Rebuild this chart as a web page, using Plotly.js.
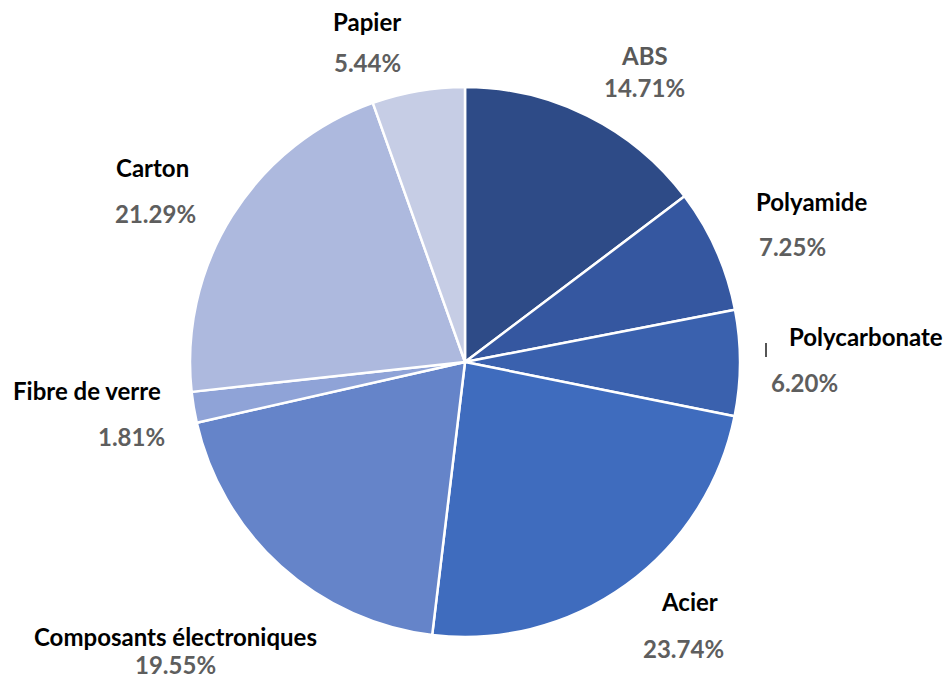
<!DOCTYPE html>
<html><head><meta charset="utf-8">
<script src="https://cdn.plot.ly/plotly-3.0.1.min.js"></script>
<style>body{margin:0;background:#fff}</style>
</head><body>
<div id="chart" style="width:949px;height:680px"></div>
<script>
const categories = ["ABS","Polyamide","Polycarbonate","Acier","Composants électroniques","Fibre de verre","Carton","Papier"];
const values = [14.71, 7.25, 6.20, 23.74, 19.55, 1.81, 21.29, 5.44];
const colors = ["#2E4B87","#3557A0","#3A61AE","#3F6CBE","#6584C9","#8FA3D7","#ADB9DE","#C6CDE5"];
// label placement (paper px): name centre and percentage centre
const namePos = [[644,55],[811,201],[866,336],[689,601],[175,636],[87,390],[152,167],[367,22]];
const pctPos  = [[644,88],[792,246],[804,382],[683,648],[175,664],[131,436],[155,213],[367,62]];
const nameColor = ["#595959","#000","#000","#000","#000","#000","#000","#000"];

const W = 949, H = 680;
const cx = 465, cy = 362, R = 275;

const trace = {
  type: "pie",
  labels: categories,
  values: values,
  sort: false,
  direction: "clockwise",
  rotation: 0,
  textinfo: "none",
  hoverinfo: "label+percent",
  marker: {colors: colors, line: {color: "#ffffff", width: 2.5}},
  domain: {x: [(cx - R) / W, (cx + R) / W], y: [1 - (cy + R) / H, 1 - (cy - R) / H]}
};

const annotations = [];
categories.forEach((c, i) => {
  annotations.push({xref: "paper", yref: "paper", x: namePos[i][0] / W, y: 1 - namePos[i][1] / H,
    text: "<b>" + c + "</b>", showarrow: false, xanchor: "center", yanchor: "middle",
    font: {family: "Lato, 'Open Sans', sans-serif", size: 24, color: nameColor[i]}});
  annotations.push({xref: "paper", yref: "paper", x: pctPos[i][0] / W, y: 1 - pctPos[i][1] / H,
    text: "<b>" + values[i].toFixed(2) + "%</b>", showarrow: false, xanchor: "center", yanchor: "middle",
    font: {family: "Lato, 'Open Sans', sans-serif", size: 24, color: "#5E5E5E"}});
});

const layout = {
  width: W, height: H,
  margin: {l: 0, r: 0, t: 0, b: 0},
  paper_bgcolor: "#ffffff",
  showlegend: false,
  annotations: annotations,
  shapes: [{type: "line", xref: "paper", yref: "paper", x0: 766 / W, x1: 766 / W, y0: 1 - 343 / H, y1: 1 - 357 / H,
    line: {color: "#555", width: 2}}]
};

Plotly.newPlot("chart", [trace], layout, {displayModeBar: false});
</script>
</body></html>
